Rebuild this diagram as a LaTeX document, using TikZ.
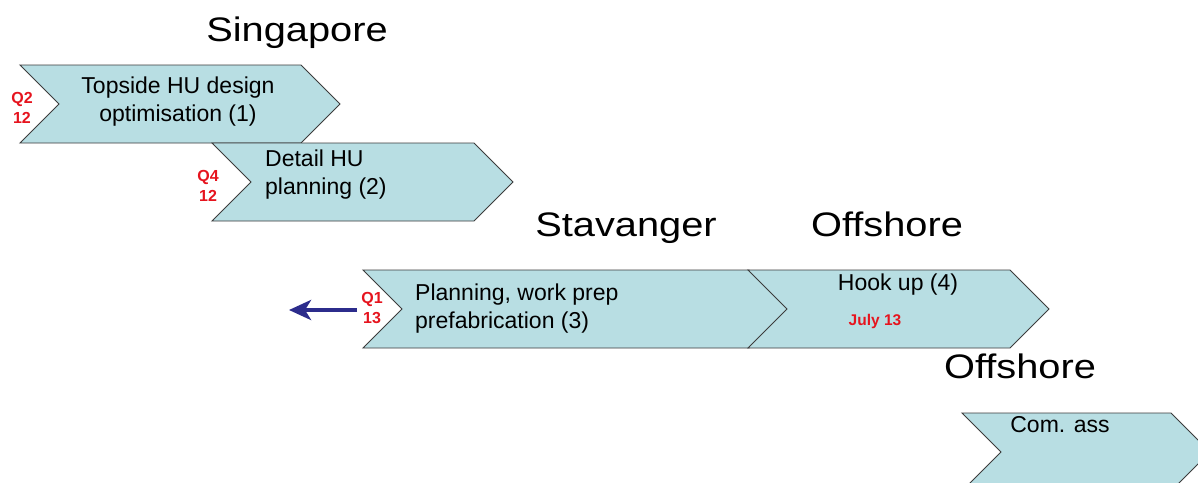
\documentclass[tikz,border=0pt]{standalone}
\usepackage{fontspec}
\usepackage{graphicx}
\setmainfont{Liberation Sans}
\usetikzlibrary{arrows.meta}
\definecolor{chevfill}{RGB}{184,222,227}
\definecolor{chevline}{RGB}{60,60,60}
\definecolor{qred}{RGB}{230,20,30}
\definecolor{navy}{RGB}{44,44,140}
\tikzset{
  chev/.style={fill=chevfill, draw=chevline, line width=0.9pt, line join=miter},
  title/.style={anchor=base, inner sep=0pt, font=\fontsize{34}{40}\selectfont},
  body/.style={anchor=base, inner sep=0pt, font=\fontsize{23}{28}\selectfont},
  qlab/.style={anchor=base, inner sep=0pt, align=center, text=qred, font=\bfseries\fontsize{16}{20}\selectfont},
  backarrow/.style={draw=navy, line width=4.5pt, -{Stealth[length=22pt,width=20pt,inset=6pt]}}
}
\newcommand\mychev[3]{% left x, top y, top-right x
  \draw[chev] (#1,#2) -- (#3,#2) -- ++(39,39) -- ++(-39,39) -- (#1,#2+78) -- ++(39,-39) -- cycle;}
\newcommand\wide[1]{\scalebox{1.17}[1]{#1}}
\begin{document}
\begin{tikzpicture}[x=1pt,y=-1pt]
\clip (0,0) rectangle (1198,482);
\fill[white] (0,0) rectangle (1198,482);
% chevrons
\mychev{20}{65}{301}
\mychev{212}{143}{474}
\mychev{363}{270}{749}
\mychev{748}{270}{1010}
\mychev{962}{413}{1171}
% titles
\node[title] (sing) at (297,41) {\wide{Singapore}};
\node[title] (stav) at (626,236) {\wide{Stavanger}};
\node[title] (off1) at (887,236) {\wide{Offshore}};
\node[title] (off2) at (1020,378) {\wide{Offshore}};
% chevron texts (anchor=base is the last line's baseline)
\node[body, align=center] (t1) at (178,121) {Topside HU design\\optimisation (1)};
\node[body, align=left, anchor=base west] (t2) at (265,194) {Detail HU\\planning (2)};
\node[body, align=left, anchor=base west] (t3) at (415,328) {Planning, work prep\\prefabrication (3)};
\node[body] (t4) at (898,290) {Hook up (4)};
\node[anchor=base, inner sep=0pt, text=qred, font=\bfseries\fontsize{15.5}{18}\selectfont] (july) at (875,325) {July 13};
\node[body] (t5) at (1060,432) {Com. ass};
% red quarter labels
\node[qlab] (q1) at (22,123) {Q2\\12};
\node[qlab] (q2) at (208,201) {Q4\\12};
\node[qlab] (q3) at (372,323) {Q1\\13};
% arrow
\coordinate (astart) at (357,310);
\coordinate (aend) at (289,310);
\draw[backarrow] (astart) -- (aend);
\end{tikzpicture}
\end{document}
